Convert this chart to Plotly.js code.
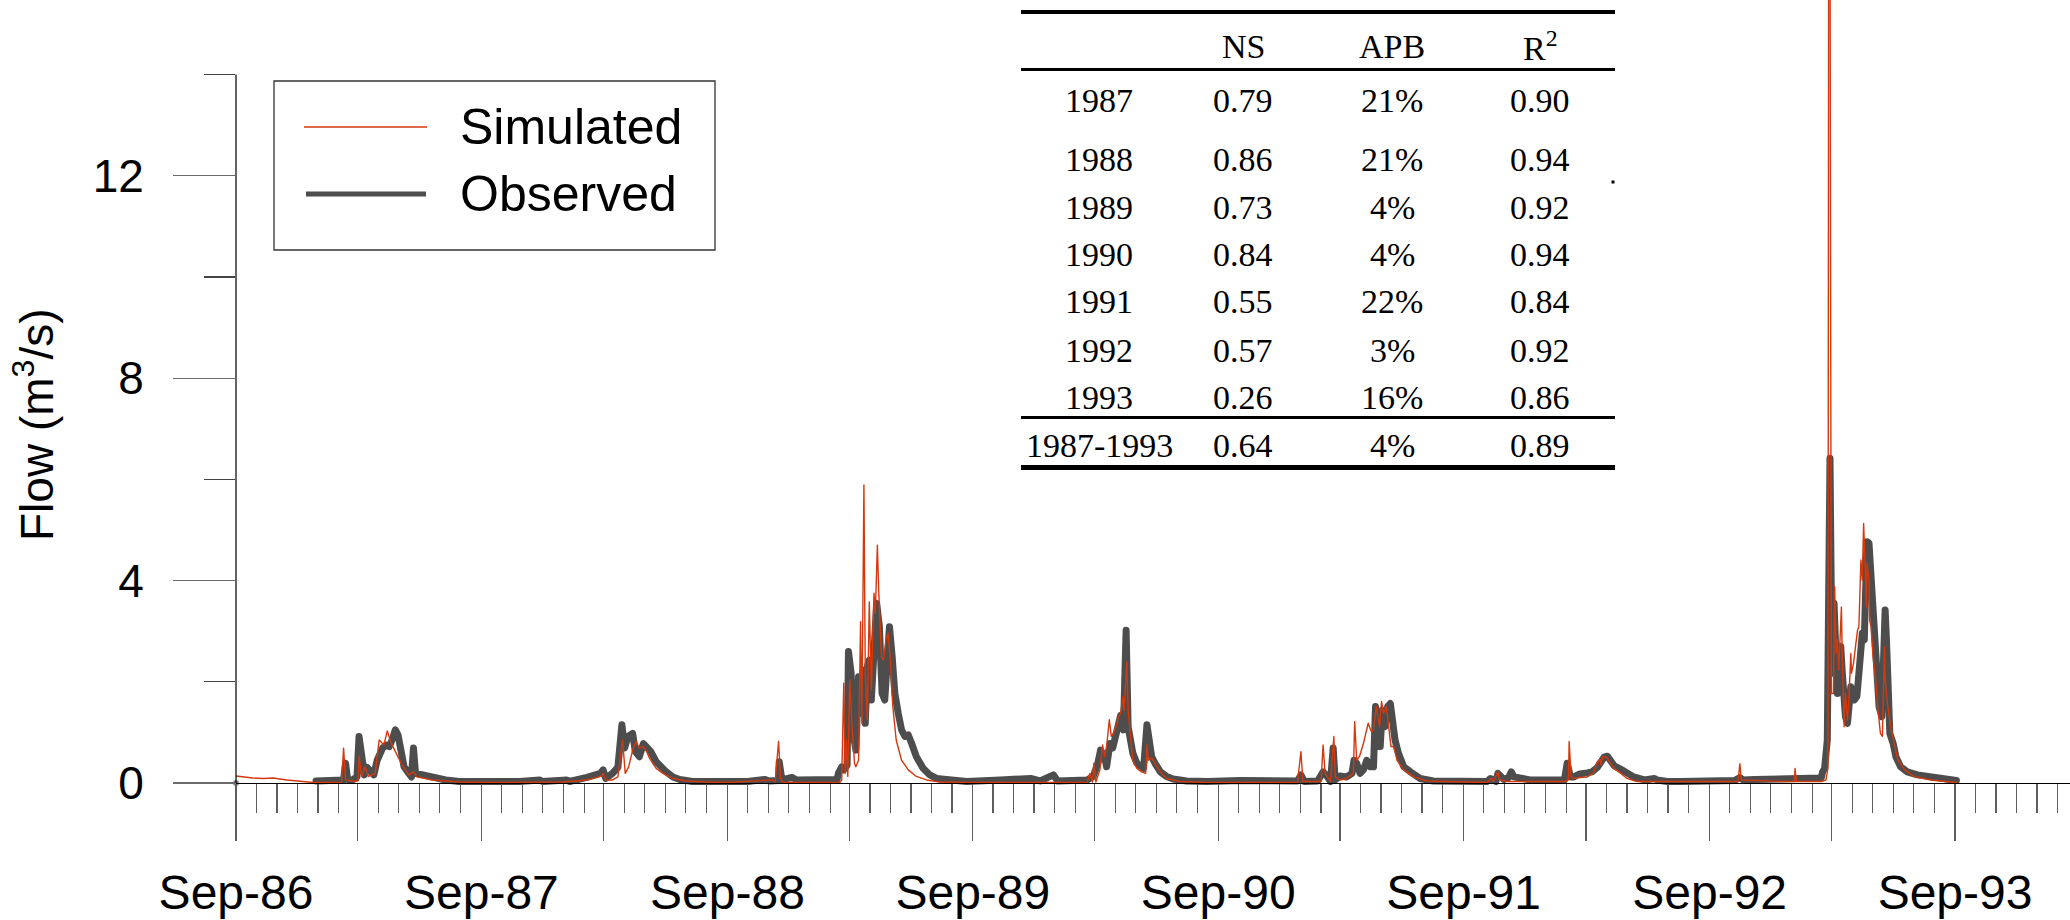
<!DOCTYPE html>
<html>
<head>
<meta charset="utf-8">
<script src="https://cdn.plot.ly/plotly-3.0.1.min.js"></script>
<style>
  html, body { margin: 0; padding: 0; background: #fff; }
  #chart { width: 2070px; height: 920px; }
  .scatterlayer .js-line { stroke-linejoin: round; stroke-linecap: round; }
</style>
</head>
<body>
<div id="chart"></div>
<script>
// Daily flow, Sep 1986 - Sep 1993 (m3/s)
const obsDates = [
  '1986-09-01','1986-09-02',
  '1986-12-29','1987-01-19','1987-01-29','1987-02-08','1987-02-11','1987-02-14','1987-02-21','1987-02-28',
  '1987-03-03','1987-03-07','1987-03-11','1987-03-15','1987-03-20','1987-03-25','1987-03-30','1987-04-07',
  '1987-04-12','1987-04-17','1987-04-22','1987-04-26','1987-04-30','1987-05-04','1987-05-09','1987-05-16',
  '1987-05-20','1987-05-23','1987-05-26','1987-06-06','1987-06-20','1987-07-10','1987-07-30','1987-09-09',
  '1987-10-28','1987-11-27','1987-12-01','1988-01-06','1988-01-10','1988-02-05','1988-02-25','1988-02-29',
  '1988-03-04','1988-03-14','1988-03-22','1988-03-28','1988-04-01','1988-04-06','1988-04-13','1988-04-17',
  '1988-04-23','1988-04-29','1988-05-05','1988-05-10','1988-05-18','1988-05-25','1988-06-02','1988-06-12',
  '1988-06-22','1988-07-11','1988-08-21','1988-10-01','1988-10-27','1988-11-02','1988-11-16','1988-11-17',
  '1988-11-21','1988-12-06','1988-12-13','1988-12-29','1989-02-11','1989-02-13','1989-02-15','1989-02-18',
  '1989-02-21','1989-02-26','1989-02-28','1989-03-04','1989-03-07','1989-03-11','1989-03-15','1989-03-19',
  '1989-03-22','1989-03-25','1989-03-28','1989-03-31','1989-04-03','1989-04-07','1989-04-11','1989-04-15',
  '1989-04-19','1989-04-23','1989-04-26','1989-04-30','1989-05-04','1989-05-08','1989-05-13','1989-05-18',
  '1989-05-23','1989-05-28','1989-06-02','1989-06-09','1989-06-19','1989-06-29','1989-07-09','1989-07-29',
  '1989-08-23','1989-10-12','1989-11-16','1989-11-26','1989-12-10','1989-12-30','1990-01-05','1990-01-30',
  '1990-02-18','1990-02-27','1990-03-06','1990-03-10','1990-03-16','1990-03-19','1990-03-24','1990-03-28',
  '1990-04-02','1990-04-05','1990-04-09','1990-04-13','1990-04-17','1990-04-20','1990-04-24','1990-04-27',
  '1990-05-03','1990-05-08','1990-05-13','1990-05-18','1990-05-22','1990-05-25','1990-05-30','1990-06-07',
  '1990-06-16','1990-06-26','1990-07-16','1990-08-15','1990-10-04','1990-11-23','1990-12-28','1991-01-02',
  '1991-01-07','1991-01-27','1991-02-04','1991-02-10','1991-02-15','1991-02-19','1991-02-22','1991-03-01',
  '1991-03-11','1991-03-19','1991-03-22','1991-03-26','1991-03-31','1991-04-05','1991-04-10','1991-04-15',
  '1991-04-20','1991-04-23','1991-04-26','1991-04-30','1991-05-03','1991-05-07','1991-05-11','1991-05-15',
  '1991-05-19','1991-05-22','1991-05-27','1991-06-04','1991-06-14','1991-06-19','1991-06-28','1991-07-18',
  '1991-08-23','1991-10-06','1991-10-11','1991-10-19','1991-10-22','1991-10-26','1991-10-31','1991-11-07',
  '1991-11-11','1991-11-15','1991-11-25','1991-12-09','1992-01-04','1992-01-29','1992-02-02','1992-02-07',
  '1992-02-12','1992-02-21','1992-03-03','1992-03-10','1992-03-18','1992-03-23','1992-03-28','1992-04-02',
  '1992-04-07','1992-04-12','1992-04-22','1992-05-01','1992-05-11','1992-05-27','1992-06-11','1992-06-15',
  '1992-06-30','1992-07-20','1992-09-09','1992-10-08','1992-10-16','1992-10-21','1992-11-07','1992-12-17',
  '1993-01-04','1993-01-11','1993-01-31','1993-02-14','1993-02-16','1993-02-19','1993-02-23','1993-02-25',
  '1993-02-27','1993-03-02','1993-03-05','1993-03-10','1993-03-15','1993-03-17','1993-03-20','1993-03-22',
  '1993-03-25','1993-03-30','1993-04-04','1993-04-08','1993-04-11','1993-04-14','1993-04-16','1993-04-19',
  '1993-04-21','1993-04-23','1993-04-26','1993-04-29','1993-05-01','1993-05-03','1993-05-06','1993-05-08',
  '1993-05-11','1993-05-15','1993-05-18','1993-05-20','1993-05-22','1993-05-24','1993-05-27','1993-06-01',
  '1993-06-05','1993-06-12','1993-06-22','1993-07-07','1993-07-27','1993-08-16','1993-09-03'
];
const obsFlow = [
  0, null,
  0.04,0.06,0.07,0.06,0.39,0.07,0.06,0.12,
  0.92,0.39,0.16,0.31,0.22,0.16,0.45,0.69,
  0.75,0.72,0.88,1.05,0.95,0.59,0.32,0.19,
  0.12,0.69,0.19,0.16,0.11,0.06,0.03,0.02,
  0.03,0.06,0.03,0.06,0.03,0.11,0.19,0.26,
  0.09,0.19,0.31,1.15,0.69,0.92,0.98,0.62,
  0.52,0.78,0.69,0.62,0.42,0.32,0.22,0.12,
  0.07,0.03,0.02,0.03,0.07,0.04,0.05,0.42,
  0.06,0.11,0.06,0.07,0.07,0.19,0.29,0.32,
  0.26,0.35,2.6,2.17,0.98,0.65,2.1,1.38,
  2.23,1.18,2.3,2.43,1.64,2.56,3.55,3.09,
  1.77,1.64,2.5,3.09,2.5,1.77,1.38,1.05,
  0.92,0.95,0.78,0.52,0.29,0.16,0.09,0.05,
  0.03,0.06,0.07,0.09,0.04,0.16,0.04,0.06,
  0.06,0.13,0.39,0.65,0.52,0.32,0.78,0.69,
  0.98,1.11,1.34,1.05,3.02,1.11,0.85,0.59,
  0.39,0.32,0.29,1.15,0.85,0.52,0.39,0.22,
  0.13,0.08,0.04,0.03,0.05,0.05,0.04,0.16,
  0.03,0.04,0.22,0.13,0.03,0.69,0.06,0.14,
  0.12,0.19,0.45,0.39,0.19,0.26,0.45,0.32,
  0.32,1.51,0.72,0.72,1.44,1.11,1.51,1.57,
  1.11,0.85,0.59,0.32,0.22,0.16,0.09,0.04,
  0.03,0.03,0.09,0.03,0.19,0.13,0.07,0.11,
  0.22,0.12,0.09,0.06,0.06,0.06,0.39,0.12,
  0.12,0.18,0.2,0.22,0.31,0.39,0.51,0.53,
  0.45,0.34,0.27,0.19,0.12,0.06,0.09,0.06,
  0.03,0.03,0.03,0.05,0.11,0.06,0.07,0.07,
  0.1,0.07,0.09,0.1,0.22,0.29,0.85,6.42,
  6.42,2.17,3.55,1.77,2.7,2.24,1.51,1.31,
  1.18,1.9,1.64,1.71,2.17,2.76,2.96,2.83,
  4.01,4.77,4.74,4.14,3.48,3.09,2.56,2.04,
  1.51,1.31,2.96,3.42,2.83,1.31,0.98,0.78,
  0.52,0.32,0.22,0.16,0.11,0.07,0.05
];

const simDates = [
  '1986-09-01','1986-09-07','1986-09-26','1986-10-11','1986-10-26','1986-11-16','1986-12-05','1986-12-25',
  '1987-02-05','1987-02-08','1987-02-11','1987-02-26','1987-03-02','1987-03-03','1987-03-07','1987-03-12',
  '1987-03-17','1987-03-27','1987-04-02','1987-04-09','1987-04-14','1987-04-19','1987-04-26','1987-05-06',
  '1987-05-16','1987-05-23','1987-05-28','1987-06-20','1987-07-30','1987-09-09','1988-01-01','1988-02-05',
  '1988-02-25','1988-02-29','1988-03-04','1988-03-14','1988-03-22','1988-03-29','1988-04-02','1988-04-07',
  '1988-04-13','1988-04-18','1988-04-23','1988-04-28','1988-05-03','1988-05-08','1988-05-18','1988-05-28',
  '1988-06-12','1988-07-02','1988-08-01','1988-09-01','1988-11-06','1988-11-11','1988-11-16','1988-11-19',
  '1988-11-23','1989-02-15','1989-02-18','1989-02-21','1989-02-23','1989-02-25','1989-02-27','1989-03-02',
  '1989-03-05','1989-03-09','1989-03-11','1989-03-15','1989-03-18','1989-03-20','1989-03-23','1989-03-25',
  '1989-03-28','1989-03-30','1989-03-31','1989-04-03','1989-04-05','1989-04-07','1989-04-09','1989-04-12',
  '1989-04-14','1989-04-18','1989-04-21','1989-04-25','1989-04-28','1989-05-01','1989-05-05','1989-05-10',
  '1989-05-18','1989-05-28','1989-06-09','1989-06-24','1989-07-14','1989-08-23','1989-11-26','1990-02-18',
  '1990-02-22','1990-02-26','1990-02-28','1990-03-03','1990-03-09','1990-03-13','1990-03-16','1990-03-19',
  '1990-03-23','1990-03-26','1990-03-29','1990-04-02','1990-04-06','1990-04-09','1990-04-12','1990-04-14',
  '1990-04-18','1990-04-20','1990-04-24','1990-04-27','1990-05-03','1990-05-10','1990-05-16','1990-05-18',
  '1990-05-20','1990-05-25','1990-05-30','1990-06-07','1990-06-16','1990-07-06','1990-08-15','1990-12-28',
  '1991-01-02','1991-01-05','1991-02-01','1991-02-04','1991-02-07','1991-02-15','1991-02-20','1991-02-22',
  '1991-03-01','1991-03-11','1991-03-21','1991-03-23','1991-03-26','1991-03-30','1991-04-05','1991-04-12',
  '1991-04-17','1991-04-20','1991-04-24','1991-04-26','1991-04-29','1991-05-02','1991-05-05','1991-05-09',
  '1991-05-12','1991-05-16','1991-05-20','1991-05-25','1991-06-04','1991-06-19','1991-07-08','1991-10-06',
  '1991-10-12','1991-10-15','1991-10-22','1991-10-24','1991-11-05','1992-01-29','1992-02-04','1992-02-05',
  '1992-02-08','1992-02-12','1992-02-21','1992-03-03','1992-03-12','1992-03-18','1992-03-22','1992-03-23',
  '1992-03-26','1992-04-01','1992-04-05','1992-04-12','1992-04-22','1992-05-01','1992-05-16','1992-06-11',
  '1992-10-13','1992-10-16','1992-10-18','1992-12-17','1993-01-05','1993-01-06','1993-01-08','1993-02-14',
  '1993-02-21','1993-02-24','1993-02-25','1993-02-27','1993-03-01','1993-03-04','1993-03-06','1993-03-08',
  '1993-03-10','1993-03-12','1993-03-14','1993-03-16','1993-03-17','1993-03-20','1993-03-22','1993-03-25',
  '1993-03-27','1993-03-30','1993-03-31','1993-04-03','1993-04-06','1993-04-09','1993-04-11','1993-04-14',
  '1993-04-16','1993-04-18','1993-04-20','1993-04-22','1993-04-23','1993-04-26','1993-04-27','1993-04-29',
  '1993-05-02','1993-05-06','1993-05-09','1993-05-13','1993-05-16','1993-05-19','1993-05-20','1993-05-24',
  '1993-05-29','1993-06-03','1993-06-08','1993-06-18','1993-07-02','1993-07-27','1993-08-26','1993-09-03'
];
const simFlow = [
  0.14,0.13,0.10,0.09,0.10,0.06,0.03,0.01,
  0.01,0.69,0.06,0.03,0.05,0.53,0.13,0.32,
  0.13,0.19,0.85,0.75,1.03,0.82,0.62,0.36,
  0.16,0.22,0.12,0.06,0.02,0.01,0.02,0.06,
  0.13,0.19,0.06,0.06,0.12,0.85,0.19,0.32,
  0.65,0.82,0.69,0.72,0.65,0.49,0.29,0.19,
  0.09,0.04,0.02,0.01,0.06,0.02,0.82,0.09,
  0.01,0.01,0.06,1.97,0.19,0.85,0.13,2.04,
  1.18,0.39,0.32,0.45,3.19,1.18,5.89,2.17,
  1.25,2.5,3.58,1.84,2.83,3.75,3.36,4.7,
  3.81,2.5,2.43,2.83,2.96,2.5,1.51,0.85,
  0.45,0.26,0.13,0.06,0.02,0.01,0.01,0.01,
  0.19,0.02,0.39,0.02,0.26,0.75,0.52,0.72,
  1.25,0.92,0.98,1.11,1.31,1.38,1.7,1.43,
  2.4,1.43,0.85,0.45,0.29,0.22,0.19,0.75,
  0.45,0.49,0.39,0.22,0.09,0.03,0.01,0.01,
  0.62,0.03,0.03,0.75,0.19,0.03,0.92,0.12,
  0.06,0.09,0.19,1.21,0.45,0.52,0.78,1.18,
  1.01,1.05,1.51,1.31,1.11,1.61,1.38,1.51,
  1.11,0.72,0.72,0.45,0.26,0.12,0.04,0.01,
  0.09,0.03,0.22,0.07,0.03,0.03,0.06,0.82,
  0.12,0.09,0.11,0.12,0.2,0.42,0.47,0.36,
  0.52,0.51,0.42,0.29,0.19,0.09,0.03,0.03,
  0.03,0.38,0.06,0.03,0.03,0.29,0.03,0.03,
  0.06,0.3,17,17,1.77,1.77,3.88,2.56,
  2.83,2.24,2.76,3.48,2.7,1.11,1.77,1.25,
  1.64,2.56,2.17,2.37,2.7,3.02,3.09,4.41,
  4.01,5.13,4.41,3.48,4.34,4.01,3.22,3.09,
  2.5,2.04,1.51,0.98,0.92,2.69,2.04,1.51,
  1.05,0.72,0.45,0.26,0.13,0.06,0.03,0.01
];

// Axis labelling
const xLabels = ['Sep-86','Sep-87','Sep-88','Sep-89','Sep-90','Sep-91','Sep-92','Sep-93'];
const yMajor = [0, 4, 8, 12];
const yMinor = [2, 6, 10, 14];
const yAxisTop = 14;

// Goodness-of-fit table
const statHeaders = ['NS', 'APB', 'R<sup>2</sup>'];
const statPeriods = ['1987','1988','1989','1990','1991','1992','1993','1987-1993'];
const statNS  = ['0.79','0.86','0.73','0.84','0.55','0.57','0.26','0.64'];
const statAPB = ['21%','21%','4%','4%','22%','3%','16%','4%'];
const statR2  = ['0.90','0.94','0.92','0.94','0.84','0.92','0.86','0.89'];

const seriesNames = ['Simulated', 'Observed'];

// ---- geometry (pixels) ----
const W = 2070, H = 920;
const M = { l: 236, r: 0, t: 0, b: 120 };
const plotW = W - M.l - M.r, plotH = H - M.t - M.b;
const zeroPx = 783, pxPerUnit = 50.6;
const yMin = -(M.t + plotH - zeroPx) / pxPerUnit;
const yMax = (zeroPx - M.t) / pxPerUnit;
const px = v => (v - M.l) / plotW;          // pixel x -> paper x
const py = v => (M.t + plotH - v) / plotH;  // pixel y -> paper y

const SANS = 'Liberation Sans, Arial, sans-serif';
const SERIF = 'Liberation Serif, Times New Roman, serif';
const OBS_COLOR = '#4d4d4d';
const SIM_COLOR = '#d4380d';
const TICK_COLOR = '#5e5e5e';
const X_RANGE = ['1986-09-01', '1994-02-19'];

// x ticks: labelled September ticks, plus unlabelled long ticks in March
const sepTicks = xLabels.map((lab, i) => (1986 + i) + '-09-01');
const marTicks = xLabels.slice(0, -1).map((lab, i) => (1987 + i) + '-03-01');

// marker only where a point stands alone between gaps
const obsMarkerSize = obsFlow.map((v, i) => {
  if (v === null) return 0;
  const prev = i > 0 ? obsFlow[i - 1] : null;
  const next = i < obsFlow.length - 1 ? obsFlow[i + 1] : null;
  return (prev === null && next === null) ? 7 : 0;
});

const traces = [
  {
    x: obsDates, y: obsFlow, name: seriesNames[1], type: 'scatter', mode: 'lines+markers',
    line: { color: OBS_COLOR, width: 7 }, marker: { color: OBS_COLOR, size: obsMarkerSize },
    connectgaps: false, cliponaxis: false, hoverinfo: 'x+y'
  },
  {
    x: simDates, y: simFlow, name: seriesNames[0], type: 'scatter', mode: 'lines',
    line: { color: SIM_COLOR, width: 1.4 }, hoverinfo: 'x+y'
  },
  // carrier for the half-year tick axis
  { x: [], y: [], xaxis: 'x2', yaxis: 'y', type: 'scatter', mode: 'lines', hoverinfo: 'skip', showlegend: false }
];

const shapes = [];
const annotations = [];

// y axis line, only up to the last tick
shapes.push({ type: 'line', xref: 'paper', yref: 'y', x0: 0, x1: 0, y0: 0, y1: yAxisTop,
  line: { color: '#000', width: 1.2 } });

// legend box
shapes.push({ type: 'rect', xref: 'paper', yref: 'paper', x0: px(274), x1: px(715), y0: py(81), y1: py(250),
  line: { color: '#333', width: 1.3 }, fillcolor: 'rgba(0,0,0,0)' });
shapes.push({ type: 'line', xref: 'paper', yref: 'paper', x0: px(304), x1: px(427), y0: py(127), y1: py(127),
  line: { color: SIM_COLOR, width: 1.3 } });
shapes.push({ type: 'line', xref: 'paper', yref: 'paper', x0: px(306), x1: px(426), y0: py(194), y1: py(194),
  line: { color: OBS_COLOR, width: 5 } });
annotations.push({ xref: 'paper', yref: 'paper', x: px(458), y: py(127), xanchor: 'left', yanchor: 'middle',
  text: seriesNames[0], showarrow: false, font: { family: SANS, size: 50, color: '#000' } });
annotations.push({ xref: 'paper', yref: 'paper', x: px(458), y: py(194), xanchor: 'left', yanchor: 'middle',
  text: seriesNames[1], showarrow: false, font: { family: SANS, size: 50, color: '#000' } });

// y axis title
annotations.push({ xref: 'paper', yref: 'paper', x: px(34), y: py(425), xanchor: 'center', yanchor: 'middle',
  text: 'Flow (m<sup>3</sup>/s)', textangle: -90, showarrow: false, font: { family: SANS, size: 46, color: '#000' } });

// statistics table
const tLeft = 1021, tRight = 1615;
const rule = (yPx, w) => shapes.push({ type: 'line', xref: 'paper', yref: 'paper',
  x0: px(tLeft), x1: px(tRight), y0: py(yPx), y1: py(yPx), line: { color: '#000', width: w } });
rule(12, 4); rule(69.5, 3); rule(417.5, 3); rule(467.5, 5);
const colX = [1099, 1243, 1392, 1540];
const rowY = [101, 160, 207, 254, 302, 350, 397, 445];
const headerY = 46;
const cell = (xPx, yPx, txt) => annotations.push({ xref: 'paper', yref: 'paper', x: px(xPx), y: py(yPx),
  xanchor: 'center', yanchor: 'middle', text: txt, showarrow: false,
  font: { family: SERIF, size: 34, color: '#000' } });
statHeaders.forEach((h, j) => cell(colX[j + 1], headerY, h));
statPeriods.forEach((p, i) => {
  cell(colX[0], rowY[i], p);
  cell(colX[1], rowY[i], statNS[i]);
  cell(colX[2], rowY[i], statAPB[i]);
  cell(colX[3], rowY[i], statR2[i]);
});
shapes.push({ type: 'rect', xref: 'paper', yref: 'paper', x0: px(1611.5), x1: px(1614.5), y0: py(180.5), y1: py(183.5),
  line: { width: 0 }, fillcolor: '#000' });

const layout = {
  width: W, height: H,
  margin: M,
  paper_bgcolor: '#fff', plot_bgcolor: '#fff',
  showlegend: false,
  xaxis: {
    type: 'date', range: X_RANGE,
    anchor: 'free', position: py(zeroPx),
    showline: true, linecolor: '#000', linewidth: 1.2,
    showgrid: false, zeroline: false,
    tickmode: 'array', tickvals: sepTicks, ticktext: xLabels,
    ticks: 'outside', ticklen: 57, tickwidth: 1.2, tickcolor: TICK_COLOR,
    ticklabelstandoff: 10,
    tickfont: { family: SANS, size: 48, color: '#000' },
    minor: { ticks: 'outside', ticklen: 29, tickwidth: 1.2, tickcolor: TICK_COLOR,
      tickmode: 'linear', dtick: 'M1', tick0: '1986-09-01', showgrid: false }
  },
  xaxis2: {
    type: 'date', range: X_RANGE, overlaying: 'x',
    anchor: 'free', position: py(zeroPx), side: 'bottom',
    showline: false, showgrid: false, zeroline: false, showticklabels: false,
    tickmode: 'array', tickvals: marTicks,
    ticks: 'outside', ticklen: 57, tickwidth: 1.2, tickcolor: TICK_COLOR
  },
  yaxis: {
    range: [yMin, yMax],
    showline: false, showgrid: false, zeroline: false,
    tickmode: 'array', tickvals: yMajor, ticktext: yMajor.map(String),
    ticks: 'outside', ticklen: 62, tickwidth: 1.2, tickcolor: '#6a6a6a',
    ticklabelstandoff: 20,
    tickfont: { family: SANS, size: 46, color: '#000' },
    minor: { tickmode: 'array', tickvals: yMinor, ticks: 'outside', ticklen: 31,
      tickwidth: 1.2, tickcolor: '#444', showgrid: false }
  },
  shapes: shapes,
  annotations: annotations
};

Plotly.newPlot('chart', traces, layout, { staticPlot: true, displayModeBar: false }).then(gd => {
  // drop placeholder and measuring text nodes that carry nothing visible
  document.querySelectorAll('text').forEach(t => {
    let empty = !t.textContent.trim();
    if (!empty) {
      try { const b = t.getBBox(); empty = b.width === 0 || b.height === 0; } catch (e) { /* detached */ }
    }
    if (empty) t.remove();
  });
});
</script>
</body>
</html>
